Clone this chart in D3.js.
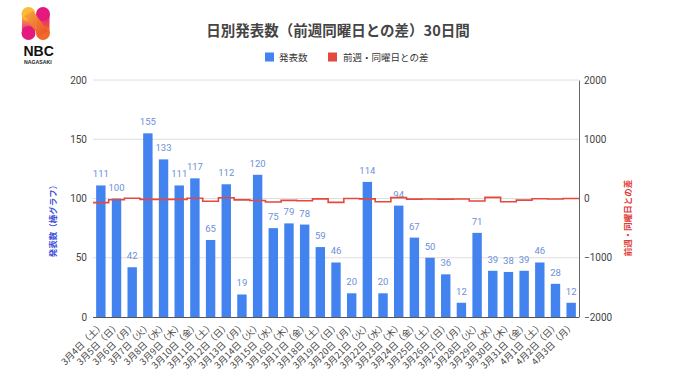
<!DOCTYPE html>
<html><head><meta charset="utf-8">
<script src="https://cdn.jsdelivr.net/npm/d3@7"></script>
<style>
html,body{margin:0;padding:0;background:#fff;}
svg{display:block;}
</style></head>
<body>
<script>
const categories = ["3月4日（土）","3月5日（日）","3月6日（月）","3月7日（火）","3月8日（水）","3月9日（木）","3月10日（金）",
"3月11日（土）","3月12日（日）","3月13日（月）","3月14日（火）","3月15日（水）","3月16日（木）","3月17日（金）",
"3月18日（土）","3月19日（日）","3月20日（月）","3月21日（火）","3月22日（水）","3月23日（木）","3月24日（金）",
"3月25日（土）","3月26日（日）","3月27日（月）","3月28日（火）","3月29日（水）","3月30日（木）","3月31日（金）",
"4月1日（土）","4月2日（日）","4月3日（月）"];
const counts = [111,100,42,155,133,111,117,65,112,19,120,75,79,78,59,46,20,114,20,94,67,50,36,12,71,39,38,39,46,28,12];
const diffs = [-70,-20,5,-15,-15,-15,5,-46,12,-23,-35,-58,-32,-39,-6,-66,1,-6,-55,15,-11,-9,-10,-8,-43,19,-56,-28,-4,-8,0];
const leftTicks = [0,50,100,150,200];
const rightTicks = [-2000,-1000,0,1000,2000];
const titleText = "日別発表数（前週同曜日との差）30日間";
const legendLabels = ["発表数","前週・同曜日との差"];
const leftTitle = "発表数（棒グラフ）";
const rightTitle = "前週・同曜日との差";

const W = 680, H = 382;
const plot = {l:93, r:579, t:80, b:317};
const blue = "#4283f0", red = "#e5483c";
const JP = "'Noto Sans CJK JP','Noto Sans',sans-serif";
const NUM = "Roboto,'Noto Sans CJK JP',sans-serif";

const svg = d3.select("body").append("svg").attr("width",W).attr("height",H);

// logo
const defs = svg.append("defs");
const g1 = defs.append("linearGradient").attr("id","lg1").attr("x1","0").attr("y1","0").attr("x2","1").attr("y2","1");
g1.append("stop").attr("offset","0").attr("stop-color","#f7a83a");
g1.append("stop").attr("offset","1").attr("stop-color","#ea4a2a");
const g2 = defs.append("linearGradient").attr("id","lg2").attr("x1","0").attr("y1","0").attr("x2","0").attr("y2","1");
g2.append("stop").attr("offset","0").attr("stop-color","#fbc33a");
g2.append("stop").attr("offset","1").attr("stop-color","#e3197d");
const g3 = defs.append("linearGradient").attr("id","lg3").attr("x1","0").attr("y1","0").attr("x2","0").attr("y2","1");
g3.append("stop").attr("offset","0").attr("stop-color","#e3197d");
g3.append("stop").attr("offset","1").attr("stop-color","#ef6a2a");
const logo = svg.append("g");
logo.append("rect").attr("x",22).attr("y",14).attr("width",13).attr("height",19).attr("fill","url(#lg2)");
logo.append("rect").attr("x",36.5).attr("y",14).attr("width",13).attr("height",19).attr("fill","url(#lg3)");
logo.append("circle").attr("cx",28.5).attr("cy",14).attr("r",7).attr("fill","#fbbb36");
logo.append("circle").attr("cx",43).attr("cy",14).attr("r",7).attr("fill","#e3197d");
logo.append("circle").attr("cx",28.5).attr("cy",33).attr("r",7).attr("fill","#e3197d");
logo.append("circle").attr("cx",43).attr("cy",33).attr("r",7).attr("fill","#ef6a2a");
logo.append("path").attr("d","M24,16 L33,11 L48,31 L39,36 Z").attr("fill","url(#lg1)").attr("opacity",0.95);
svg.append("text").attr("x",23.5).attr("y",56).attr("font-family","'Liberation Sans',Arial,sans-serif")
  .attr("font-weight","bold").attr("font-size",14).attr("fill","#111").text("NBC");
svg.append("text").attr("x",24).attr("y",64).attr("font-family","'Liberation Sans',Arial,sans-serif")
  .attr("font-weight","bold").attr("font-size",5.2).attr("fill","#222").text("NAGASAKI");

// title
svg.append("text").attr("x",338).attr("y",36).attr("text-anchor","middle")
  .attr("font-family",JP).attr("font-weight","bold").attr("font-size",14.5).attr("fill","#444").text(titleText);

// legend
const leg = svg.append("g").attr("font-family",JP).attr("font-size",9.5).attr("fill","#333");
leg.append("rect").attr("x",265).attr("y",52.5).attr("width",9).attr("height",9).attr("fill",blue);
leg.append("text").attr("x",279).attr("y",60.5).text(legendLabels[0]);
leg.append("rect").attr("x",328).attr("y",52.5).attr("width",9).attr("height",9).attr("fill",red);
leg.append("text").attr("x",343).attr("y",60.5).text(legendLabels[1]);

// scales
const x = d3.scaleBand().domain(categories).range([plot.l,plot.r]).paddingInner(0.4).paddingOuter(0.2);
const yL = d3.scaleLinear().domain([0,200]).range([plot.b,plot.t]);
const yR = d3.scaleLinear().domain([-2000,2000]).range([plot.b,plot.t]);

// gridlines
svg.append("g").selectAll("line").data(leftTicks.filter(d=>d>0)).join("line")
  .attr("x1",plot.l).attr("x2",plot.r).attr("y1",d=>yL(d)).attr("y2",d=>yL(d))
  .attr("stroke","#dedede").attr("stroke-width",1);

// left axis
const axL = svg.append("g").attr("transform",`translate(${plot.l-6},0)`)
  .call(d3.axisLeft(yL).tickValues(leftTicks).tickSize(0).tickPadding(0));
axL.select(".domain").remove();
axL.selectAll("text").attr("font-family",NUM).attr("font-size",10).attr("fill","#444");

// right axis
const axR = svg.append("g").attr("transform",`translate(${plot.r},0)`)
  .call(d3.axisRight(yR).tickValues(rightTicks).tickSize(0).tickPadding(5).tickFormat(d3.format("d")));
axR.select(".domain").attr("stroke","#666").attr("stroke-width",1);
axR.selectAll("text").attr("font-family",NUM).attr("font-size",10).attr("fill","#444");

// bars
svg.append("g").selectAll("rect").data(categories).join("rect")
  .attr("x",d=>x(d)).attr("width",x.bandwidth())
  .attr("y",(d,i)=>yL(counts[i])).attr("height",(d,i)=>yL(0)-yL(counts[i]))
  .attr("fill",blue);

// bar labels
svg.append("g").selectAll("text").data(categories).join("text")
  .attr("x",d=>x(d)+x.bandwidth()/2).attr("y",(d,i)=>yL(counts[i])-8)
  .attr("text-anchor","middle").attr("font-family",NUM).attr("font-size",9.5).attr("fill","#6c8fd8")
  .text((d,i)=>counts[i]);

// bottom axis
const axB = svg.append("g").attr("transform",`translate(0,${plot.b})`)
  .call(d3.axisBottom(x).tickSize(0).tickPadding(0));
axB.select(".domain").attr("stroke","#555").attr("stroke-width",1).attr("d",`M${plot.l},0.5H${plot.r}`);
axB.selectAll("text").attr("font-family",JP).attr("font-size",9.2).attr("fill","#444")
  .attr("text-anchor","end").attr("dy",null).attr("y",0)
  .attr("transform","translate(4,9) rotate(-45)");

// step line
const cellStart = (d)=> x(d) - x.step()*x.paddingInner()/2;
const pts = categories.map((c,i)=>[cellStart(c), diffs[i]]);
pts.push([plot.r, diffs[diffs.length-1]]);
svg.append("path").datum(pts)
  .attr("d", d3.line().x(d=>d[0]).y(d=>yR(d[1])).curve(d3.curveStepAfter))
  .attr("fill","none").attr("stroke",red).attr("stroke-width",1.6);

// axis titles
svg.append("text").attr("transform","translate(56,219) rotate(-90)").attr("text-anchor","middle")
  .attr("font-family",JP).attr("font-weight","bold").attr("font-size",8.5).attr("fill","#3f52dc").text(leftTitle);
svg.append("text").attr("transform","translate(631,218) rotate(-90)").attr("text-anchor","middle")
  .attr("font-family",JP).attr("font-weight","bold").attr("font-size",8.5).attr("fill","#e03a36").text(rightTitle);
</script>
</body></html>
